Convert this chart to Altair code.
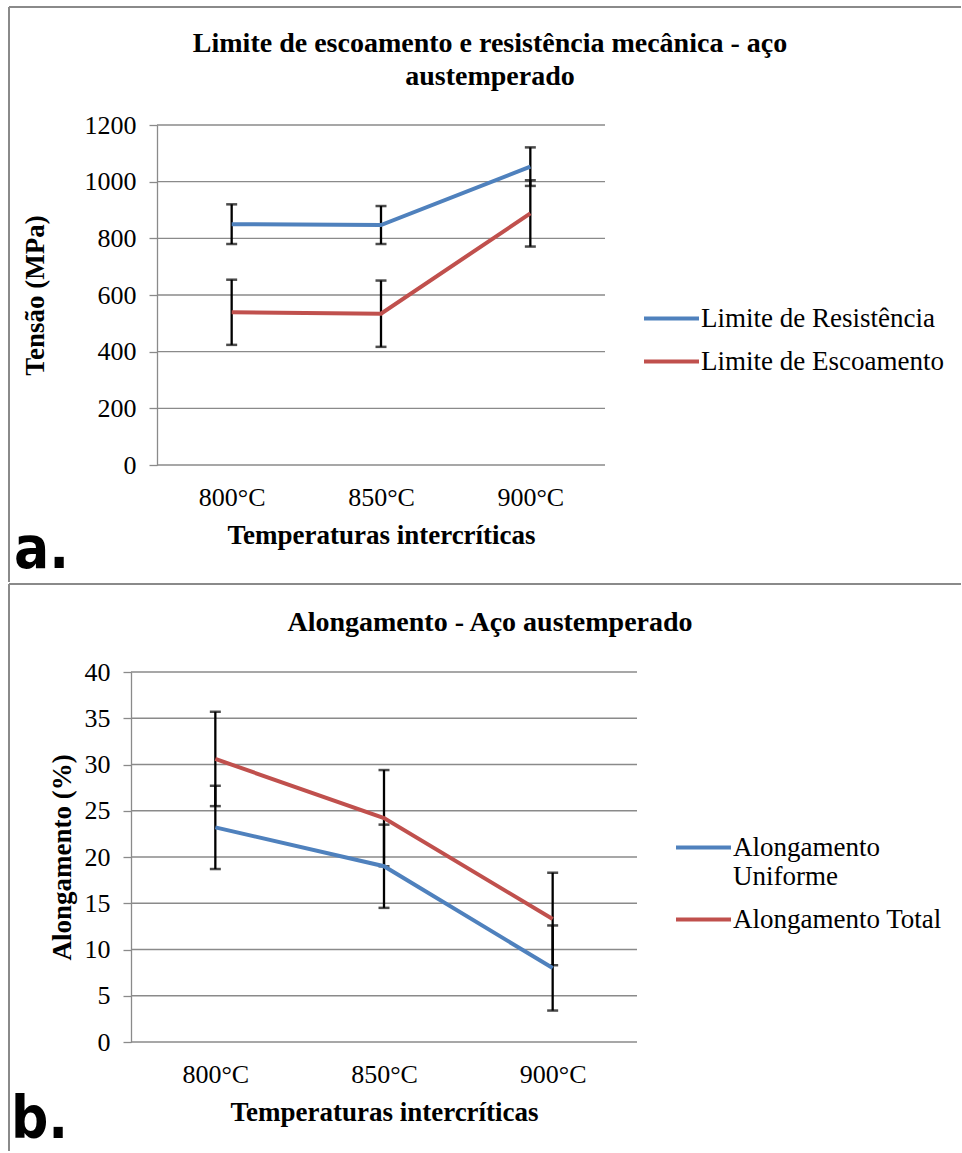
import altair as alt
import pandas as pd

# ---------------- data ----------------
temps = ["800°C", "850°C", "900°C"]

series_a = ["Limite de Resistência", "Limite de Escoamento"]
resistencia = [850, 847, 1053]
resistencia_err = [70, 67, 68]
escoamento = [539, 534, 888]
escoamento_err = [115, 117, 117]
yticks_a = [0, 200, 400, 600, 800, 1000, 1200]

series_b = ["Alongamento Uniforme", "Alongamento Total"]
uniforme = [23.2, 19.0, 8.0]
uniforme_err = [4.5, 4.5, 4.6]
total = [30.6, 24.2, 13.3]
total_err = [5.1, 5.2, 5.0]
yticks_b = [0, 5, 10, 15, 20, 25, 30, 35, 40]

colors = ["#4F81BD", "#C0504D"]

FONT = "Liberation Serif"
GRID = "#8a8a8a"
FS = 26      # tick labels
FS_T = 27    # axis titles / legend
FS_H = 28    # chart titles

ORIGIN = 131  # common x origin of both panels (absolute pixels)


def make_df(series, vals, errs):
    rows = []
    for s, v, e in zip(series, vals, errs):
        for t, vv, ee in zip(temps, v, e):
            rows.append({"temp": t, "series": s, "value": vv,
                         "lo": vv - ee, "hi": vv + ee})
    return pd.DataFrame(rows)


def panel(df, series, yticks, title_lines, title_offset, ytitle,
          plot_off, W, H, top, ytitle_x, legend_x, legend_y, row_pad,
          tag, tag_x, tag_y, border_top, border_bottom, label_expr=None):
    one = pd.DataFrame({"k": [0]})
    xl = 9 - ORIGIN
    xr = 961 - ORIGIN
    yt = border_top - top
    yb = border_bottom - top
    x0, x1 = plot_off, plot_off + W

    xaxis = alt.Axis(title="Temperaturas intercríticas", labelAngle=0,
                     ticks=False, domain=False,
                     labelPadding=19, labelFont=FONT, labelFontSize=FS,
                     labelColor="black", titleFont=FONT, titleFontSize=FS_T,
                     titleFontWeight="bold", titleColor="black",
                     titleX=plot_off + W / 2, titleY=70, titleAlign="center",
                     titleBaseline="middle")
    x = alt.X("temp:N", sort=temps,
              scale=alt.Scale(type="point", padding=0.5, range=[x0, x1]),
              axis=xaxis)

    yaxis = alt.Axis(values=yticks, format="d", grid=False, offset=-plot_off,
                     domainColor=GRID, domainWidth=1.3, tickColor=GRID,
                     tickWidth=1.3, tickSize=8,
                     labelPadding=13, labelFont=FONT, labelFontSize=FS,
                     labelColor="black", title=ytitle, titleFont=FONT,
                     titleFontSize=FS_T, titleFontWeight="bold",
                     titleColor="black", titleX=ytitle_x, titleY=H / 2,
                     titleAngle=270, titleAlign="center",
                     titleBaseline="middle")
    yscale = alt.Scale(domain=[yticks[0], yticks[-1]], nice=False)

    legend_kwargs = dict(title=None, orient="none", legendX=legend_x,
                         legendY=legend_y, symbolType="stroke",
                         symbolStrokeWidth=4, symbolSize=3025,
                         labelFont=FONT, labelFontSize=FS_T, labelColor="black",
                         labelLimit=600, rowPadding=row_pad, padding=0,
                         labelOffset=0)
    if label_expr:
        legend_kwargs["labelExpr"] = label_expr

    grid = alt.Chart(pd.DataFrame({"v": yticks})).mark_rule(
        color=GRID, strokeWidth=1.3).encode(
        y=alt.Y("v:Q", scale=yscale, axis=yaxis),
        x=alt.value(x0), x2=alt.value(x1))

    lines = alt.Chart(df).mark_line(strokeWidth=4).encode(
        x=x,
        y=alt.Y("value:Q", scale=yscale, axis=yaxis),
        color=alt.Color("series:N", scale=alt.Scale(domain=series, range=colors),
                        legend=alt.Legend(**legend_kwargs)),
        detail="series:N",
    )
    bars = alt.Chart(df).mark_rule(color="black", strokeWidth=2.3).encode(
        x=x, y=alt.Y("lo:Q", scale=yscale, axis=yaxis), y2="hi:Q")
    cap_lo = alt.Chart(df).mark_tick(color="black", size=11, thickness=2.5).encode(
        x=x, y=alt.Y("lo:Q", scale=yscale, axis=yaxis))
    cap_hi = alt.Chart(df).mark_tick(color="black", size=11, thickness=2.5).encode(
        x=x, y=alt.Y("hi:Q", scale=yscale, axis=yaxis))

    border_h = alt.Chart(one).mark_rule(color=GRID, strokeWidth=2).encode(
        x=alt.value(xl), x2=alt.value(xr), y=alt.value(yt))
    border_v = alt.Chart(one).mark_rule(color=GRID, strokeWidth=2).encode(
        x=alt.value(xl), y=alt.value(yt), y2=alt.value(yb))

    tag_layer = alt.Chart(pd.DataFrame({"t": [tag]})).mark_text(
        align="left", baseline="alphabetic",
        font="DejaVu Sans Condensed",
        fontWeight="bold", fontSize=58, color="black").encode(
        text="t:N", x=alt.value(tag_x), y=alt.value(tag_y))

    return alt.layer(border_h, border_v, grid, bars, cap_lo, cap_hi, lines,
                     tag_layer).properties(
        width=plot_off + W, height=H,
        title=alt.TitleParams(text=title_lines, font=FONT, fontSize=FS_H,
                              fontWeight="bold", color="black",
                              anchor="middle", frame="bounds",
                              offset=title_offset, dx=5, lineHeight=33),
    )


df_a = make_df(series_a, [resistencia, escoamento],
               [resistencia_err, escoamento_err])
df_b = make_df(series_b, [uniforme, total], [uniforme_err, total_err])

top_chart = panel(
    df_a, series_a, yticks_a,
    ["Limite de escoamento e resistência mecânica - aço", "austemperado"],
    -85, "Tensão (MPa)",
    plot_off=26, W=448, H=340, top=125, ytitle_x=-122,
    legend_x=511, legend_y=164, row_pad=0,
    tag="a.", tag_x=-117, tag_y=443, border_top=7, border_bottom=582)

bottom_chart = panel(
    df_b, series_b, yticks_b, "Alongamento - Aço austemperado", -54,
    "Alongamento (%)",
    plot_off=0, W=506, H=370, top=672, ytitle_x=-69,
    legend_x=543, legend_y=146, row_pad=0,
    tag="b.", tag_x=-120, tag_y=466, border_top=584, border_bottom=1151,
    label_expr="datum.label == 'Alongamento Uniforme' ? ['Alongamento', 'Uniforme'] : datum.label")

chart = alt.vconcat(top_chart, bottom_chart, spacing=0).properties(
    padding={"left": 8, "top": 6, "right": 0, "bottom": 0},
    background="white",
).resolve_scale(color="independent").configure_view(stroke=None)

chart.save("out.html", embed_options={"renderer": "svg", "actions": False})
